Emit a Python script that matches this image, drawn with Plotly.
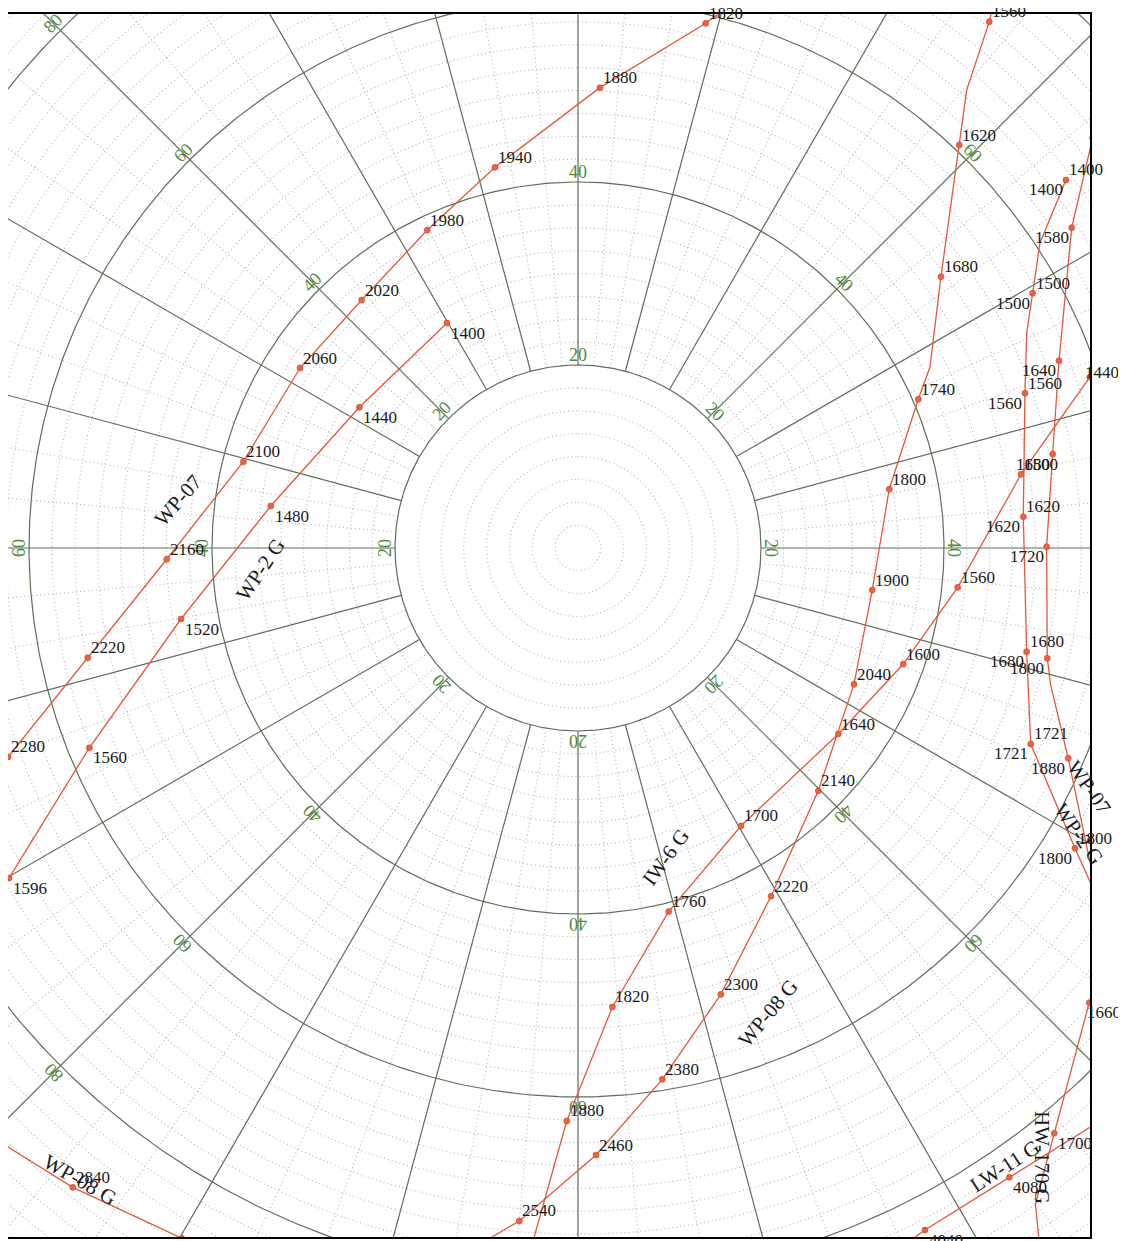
import numpy as np
import plotly.graph_objects as go

# ---------------- DATA (chart units: x = right of centre, y = up from centre) -------------
# "" = unlabelled survey vertex (line only)
wp07_l_x = [17.38, 13.96, 2.40, -9.07, -16.47, -23.64, -30.38, -36.58, -44.95, -53.58, -62.30]
wp07_l_y = [59.89, 57.34, 50.31, 41.61, 34.75, 27.10, 19.67, 9.43, -1.23, -11.99, -22.84]
wp07_l_md = ["", "1820", "1880", "1940", "1980", "2020", "2060", "2100", "2160", "2220", "2280"]

wp2_l_x = [-14.32, -23.90, -33.58, -43.39, -53.41, -62.19]
wp2_l_y = [24.59, 15.38, 4.59, -7.76, -21.83, -36.07]
wp2_l_md = ["1400", "1440", "1480", "1520", "1560", "1596"]

iw6_x = [-5.25, -1.23, 3.76, 9.92, 17.81, 28.45, 35.55, 41.50, 48.42, 55.96]
iw6_y = [-76.94, -62.62, -50.16, -39.72, -30.38, -20.33, -12.68, -4.30, 8.05, 18.69]
iw6_md = ["", "1880", "1820", "1760", "1700", "1640", "1600", "1560", "1500", "1440"]

wp08_x = [45.36, 44.95, 42.48, 41.67, 39.67, 38.47, 37.19, 34.02, 32.16, 30.16, 26.26,
          21.10, 15.61, 9.21, 1.97, -6.42, -11.26]
wp08_y = [59.34, 57.52, 50.05, 44.04, 29.65, 19.78, 16.25, 6.42, -4.59, -14.90, -26.52,
          -38.07, -48.78, -58.07, -66.34, -73.55, -76.39]
wp08_md = ["", "1560", "", "1620", "1680", "", "1740", "1800", "1900", "2040", "2140",
           "2220", "2300", "2380", "2460", "2540", ""]

wp2_r_x = [53.33, 50.49, 49.69, 49.04, 48.85, 48.67, 49.04, 49.48, 54.32, 56.72]
wp2_r_y = [40.22, 33.33, 27.84, 23.50, 16.91, 3.42, -11.33, -21.42, -32.82, -38.14]
wp2_r_md = ["1400", "", "1500", "", "1560", "1620", "1680", "1721", "1800", ""]

wp07_r_x = [56.72, 56.25, 53.96, 52.57, 51.88, 51.22, 51.29, 51.66, 53.58, 56.83]
wp07_r_y = [46.99, 44.81, 35.01, 20.47, 10.27, 0.14, -12.05, -14.97, -22.98, -38.47]
wp07_r_md = ["", "1520", "1580", "1640", "1680", "1720", "1800", "", "1880", ""]

wp08_b_x = [-63.72, -55.22, -43.30, -41.31]
wp08_b_y = [-64.59, -69.87, -75.44, -76.50]
wp08_b_md = ["", "2840", "2780", ""]

hw170_x = [56.50, 55.88, 52.05, 50.00, 50.49]
hw170_y = [-47.32, -49.69, -63.97, -71.69, -76.72]
hw170_md = ["", "1660", "1700", "", ""]

lw11_x = [35.19, 37.92, 47.14, 57.05]
lw11_y = [-76.50, -74.54, -68.78, -62.62]
lw11_md = ["", "4040", "4080", ""]

ring_major = [20, 40, 60, 80]
ring_label_angles = [0, 45, 90, 135, 180, 225, 270, 315]

# ---------------- STYLE -------------
GRID = "#5f6e58"
GRID_DOT = "#b3b3b3"
RING_TXT = "#4e8a3a"
RED = "#e2583a"
SERIF = "Liberation Serif, Times New Roman, serif"
XR = [-62.30, 55.96]
YR = [-75.30, 58.36]

wells = [
    dict(x=wp07_l_x, y=wp07_l_y, md=wp07_l_md, sides=("ur",), over={}),
    dict(x=wp2_l_x, y=wp2_l_y, md=wp2_l_md, sides=("lr",), over={}),
    dict(x=iw6_x, y=iw6_y, md=iw6_md, sides=("ur",), over={"1440": "edge_u"}),
    dict(x=wp08_x, y=wp08_y, md=wp08_md, sides=("ur",), over={}),
    dict(x=wp2_r_x, y=wp2_r_y, md=wp2_r_md, sides=("ur", "ll"), over={}),
    dict(x=wp07_r_x, y=wp07_r_y, md=wp07_r_md, sides=("ll",), over={"1520": "ul"}),
    dict(x=wp08_b_x, y=wp08_b_y, md=wp08_b_md, sides=("ur",), over={}),
    dict(x=hw170_x, y=hw170_y, md=hw170_md, sides=("lr",), over={"1660": "edge_d"}),
    dict(x=lw11_x, y=lw11_y, md=lw11_md, sides=("lr",), over={}),
]

well_names = [
    ("WP-07", -43.68, 5.25, -49),
    ("WP-2 G", -34.75, -2.40, -56),
    ("IW-6 G", 9.62, -33.77, -54),
    ("WP-08 G", 20.77, -50.82, -50),
    ("WP-07", 55.90, -26.23, 55),
    ("WP-2 G", 54.75, -31.26, 55),
    ("WP-08 G", -54.43, -69.07, 30),
    ("LW-11 G", 46.67, -67.54, -33),
    ("HW-170 G", 50.71, -66.67, 90),
]

SIDE = {
    "ur": dict(xanchor="left", xshift=1, yshift=10),
    "lr": dict(xanchor="left", xshift=2, yshift=-10),
    "ll": dict(xanchor="right", xshift=-1, yshift=-10),
    "ul": dict(xanchor="right", xshift=-1, yshift=11),
    "edge_u": dict(xanchor="left", xshift=-7, yshift=4),
    "edge_d": dict(xanchor="left", xshift=-4, yshift=-10),
}


def polar_xy(r, deg):
    t = np.radians(deg)
    return r * np.sin(t), r * np.cos(t)


fig = go.Figure()

# dotted minor rings
xs, ys = [], []
th = np.linspace(0, 360, 721)
for r in np.arange(2.5, 100.01, 2.5):
    if abs(r % 20) < 1e-9:
        continue
    x, y = polar_xy(r, th)
    xs += list(x) + [None]
    ys += list(y) + [None]
# dotted minor radials
for a in range(0, 360, 5):
    if a % 15 == 0:
        continue
    x, y = polar_xy(np.array([20, 100]), a)
    xs += list(x) + [None]
    ys += list(y) + [None]
fig.add_trace(go.Scatter(x=xs, y=ys, mode="lines", hoverinfo="skip",
                         line=dict(color=GRID_DOT, width=1.1, dash="1px,3px")))

# solid major rings and radials
xs, ys = [], []
for r in ring_major:
    x, y = polar_xy(r, th)
    xs += list(x) + [None]
    ys += list(y) + [None]
for a in range(0, 360, 15):
    x, y = polar_xy(np.array([20, 100]), a)
    xs += list(x) + [None]
    ys += list(y) + [None]
fig.add_trace(go.Scatter(x=xs, y=ys, mode="lines", hoverinfo="skip",
                         line=dict(color=GRID, width=1.2)))

annotations = []
# ring labels
for r in ring_major:
    for a in ring_label_angles:
        lx, ly = polar_xy(r + 1.1, a)
        if XR[0] < lx < XR[1] and YR[0] < ly < YR[1]:
            annotations.append(dict(x=lx, y=ly, text=str(r), showarrow=False,
                                    textangle=a, font=dict(family=SERIF, size=18, color=RING_TXT)))

# wells
for w in wells:
    fig.add_trace(go.Scatter(x=w["x"], y=w["y"], mode="lines", hoverinfo="skip",
                             line=dict(color=RED, width=1.3)))
    mx = [xv for xv, m in zip(w["x"], w["md"]) if m]
    my = [yv for yv, m in zip(w["y"], w["md"]) if m]
    fig.add_trace(go.Scatter(x=mx, y=my, mode="markers", hoverinfo="skip",
                             marker=dict(color="#e8653f", size=6,
                                         line=dict(color="#c8402a", width=0.6))))
    for xv, yv, m in zip(w["x"], w["y"], w["md"]):
        if not m:
            continue
        sides = (w["over"][m],) if m in w["over"] else w["sides"]
        for s in sides:
            annotations.append(dict(x=xv, y=yv, text=m, showarrow=False, yanchor="middle",
                                    font=dict(family=SERIF, size=17, color="#1a1a1a"),
                                    **SIDE[s]))

for name, nx, ny, ang in well_names:
    annotations.append(dict(x=nx, y=ny, text=name, showarrow=False, textangle=ang,
                            font=dict(family=SERIF, size=21, color="#1a1a1a")))

# the page body adds an 8px offset; margins compensate so the frame sits at x 8..1090, y 14..1237
fig.update_layout(width=1118, height=1233, margin=dict(l=0, r=36, t=6, b=4),
                  plot_bgcolor="white", paper_bgcolor="white", showlegend=False,
                  annotations=annotations)
fig.update_xaxes(range=XR, showgrid=False, zeroline=False, showticklabels=False, ticks="",
                 showline=True, linecolor="black", linewidth=2, mirror=True)
fig.update_yaxes(range=YR, showgrid=False, zeroline=False, showticklabels=False, ticks="",
                 showline=True, linecolor="black", linewidth=2, mirror=True)

fig.write_html("out.html")
